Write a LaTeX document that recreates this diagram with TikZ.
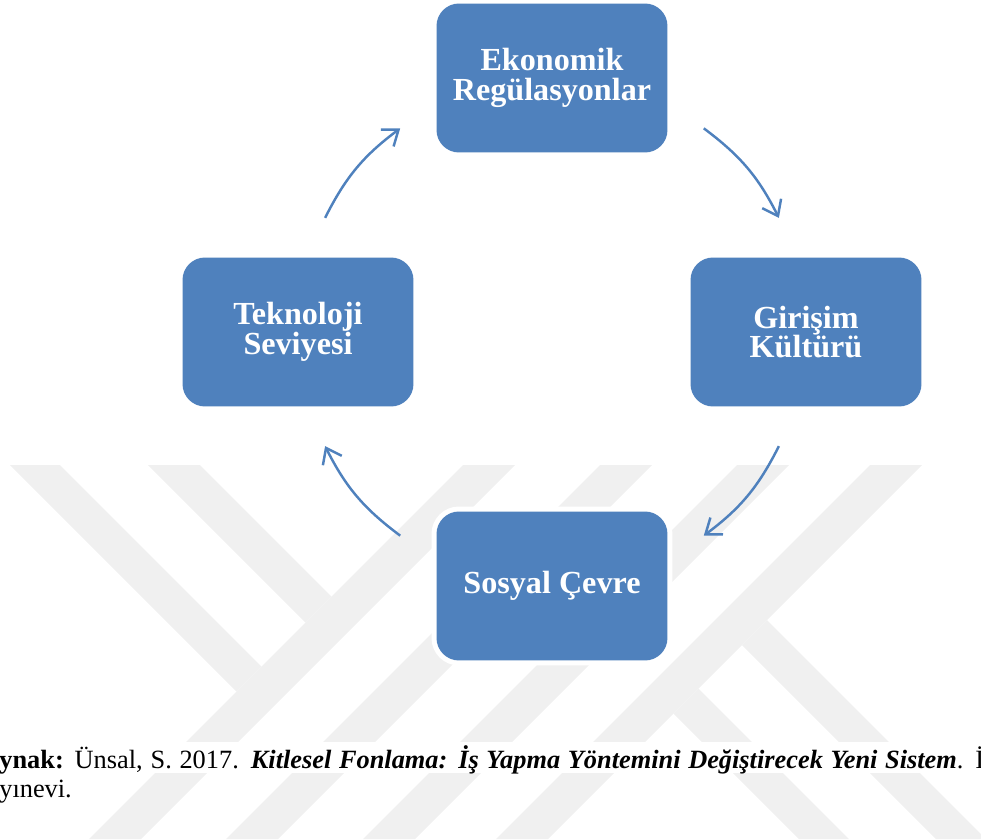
\documentclass[tikz,border=0pt]{standalone}
\usepackage{fontspec}
\setmainfont{Liberation Serif}
\usetikzlibrary{arrows.meta}
\definecolor{boxblue}{RGB}{79,129,189}
\definecolor{wmgray}{RGB}{240,240,240}

\begin{document}
\begin{tikzpicture}[x=0.02cm, y=0.02cm,
        >={Straight Barb[length=8pt,width=12pt]},
        stage/.style={rounded corners=0.45cm, fill=boxblue,
            preaction={draw=white, line width=0.2cm},
            minimum width=4.62cm, minimum height=2.98cm,
            text=white, align=center,
            font=\fontsize{18.3}{17}\selectfont\bfseries},
        flow/.style={->, draw=boxblue, line width=1.4pt},
        band/.style={fill=wmgray},
        srctext/.style={anchor=base west, inner sep=0pt,
            font=\fontsize{15}{16}\selectfont}]
        \useasboundingbox (-552,-507) rectangle (429,332);

        % watermark
        \begin{scope}[shift={(-552,332)}, yscale=-1]
            \clip (0,465) rectangle (981,839);
            \fill[band] (10,465) -- (60,465) -- (261.5,666.5) -- (236.5,691.5) -- cycle;
            \fill[band] (148,465) -- (200,465) -- (331.5,596.5) -- (305.5,622.5) -- cycle;
            \fill[band] (463,465) -- (515,465) -- (141,839) -- (89,839) -- cycle;
            \fill[band] (600,465) -- (652,465) -- (278,839) -- (226,839) -- cycle;
            \fill[band] (737,465) -- (789,465) -- (415,839) -- (363,839) -- cycle;
            \fill[band] (870,465) -- (922,465) -- (548,839) -- (496,839) -- cycle;
            \fill[band] (767,620) -- (986,839) -- (936,839) -- (742,645) -- cycle;
            \fill[band] (698.5,688.5) -- (849,839) -- (799,839) -- (673.5,713.5) -- cycle;
            \fill[white] (0,742) rectangle (981,773);
        \end{scope}

        \node[stage] (eko) at (0,254) {Ekonomik\\Regülasyonlar};
        \node[stage] (gir) at (254,0) {Girişim\\Kültürü};
        \node[stage] (sos) at (0,-254) {Sosyal Çevre};
        \node[stage] (tek) at (-254,0) {Teknoloji\\Seviyesi};

        \coordinate (a1) at (53.3:254);
        \coordinate (b1) at (26.7:254);
        \coordinate (a2) at (-26.7:254);
        \coordinate (b2) at (-53.3:254);
        \coordinate (a3) at (233.3:254);
        \coordinate (b3) at (206.7:254);
        \coordinate (a4) at (153.3:254);
        \coordinate (b4) at (126.7:254);

        \draw[flow] (a1) to[bend left=13.3] (b1);
        \draw[flow] (a2) to[bend left=13.3] (b2);
        \draw[flow] (a3) to[bend left=13.3] (b3);
        \draw[flow] (a4) to[bend left=13.3] (b4);

        \node[srctext] (src) at (-553,-436) {\makebox[19.7cm][s]{\textbf{ynak:} Ünsal, S. 2017. \textbf{\textit{Kitlesel Fonlama: İş Yapma Yöntemini Değiştirecek Yeni Sistem}}. İ}};
        \node[srctext] (pub) at (-553,-465) {yınevi.};
    \end{tikzpicture}
\end{document}
